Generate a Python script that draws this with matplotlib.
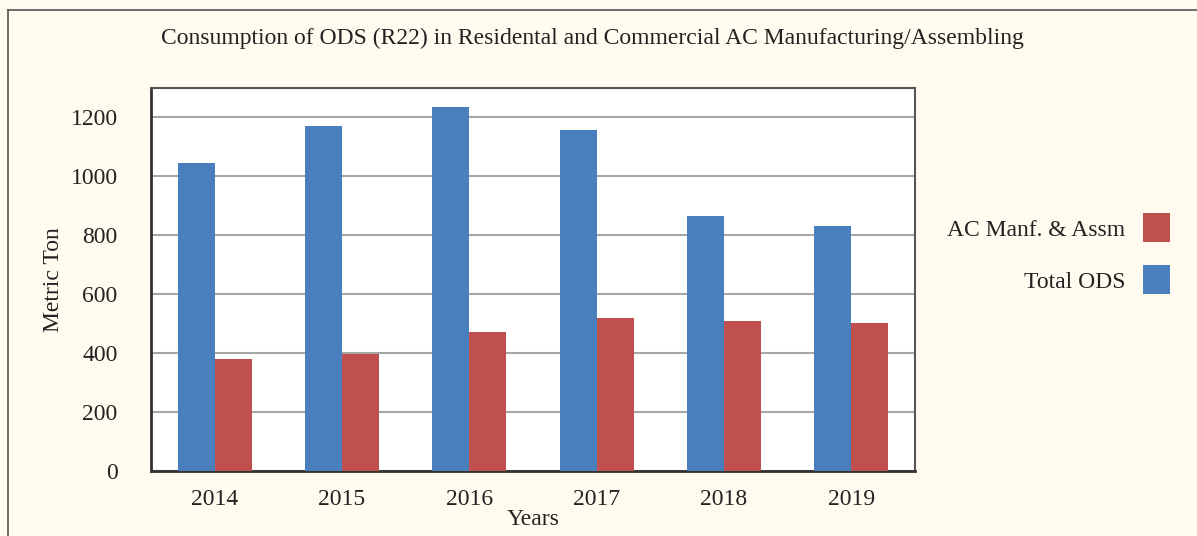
import matplotlib
matplotlib.use("Agg")
import matplotlib.pyplot as plt
import numpy as np
from matplotlib.lines import Line2D
from matplotlib.patches import Rectangle

years = ["2014", "2015", "2016", "2017", "2018", "2019"]
total_ods = [1047, 1170, 1234, 1156, 864, 833]
ac_manf = [381, 398, 473, 520, 510, 503]
legend_labels = ["AC Manf. & Assm", "Total ODS"]

BLUE = "#4a7fbd"
RED = "#c0504d"
BG = "#fffcef"
TXT = "#222222"

plt.rcParams['font.family'] = ['Liberation Serif', 'DejaVu Serif']

W, H = 1197, 536
fig = plt.figure(figsize=(W / 100, H / 100), dpi=100, facecolor=BG)
ax = fig.add_axes([151 / W, 1 - 471 / H, (915 - 151) / W, (471 - 88) / H])
ax.set_facecolor("white")

x = np.arange(len(years))
w = 0.29
ax.bar(x - w/2, total_ods, width=w, color=BLUE, zorder=3, label="Total ODS")
ax.bar(x + w/2, ac_manf, width=w, color=RED, zorder=3, label="AC Manf. & Assm")

ax.set_xlim(-0.5, len(years) - 0.5)
ax.set_ylim(0, 1300)
ax.set_yticks(range(0, 1201, 200))
ax.set_xticks(x)
ax.set_xticklabels(years)
ax.yaxis.grid(True, color="#a6a6a6", linewidth=1.5, zorder=0)
ax.tick_params(axis="both", length=0, labelsize=17, colors=TXT)
ax.tick_params(axis="y", pad=24)
ax.tick_params(axis="x", pad=13)

for side in ["left", "bottom"]:
    ax.spines[side].set_color("#333333")
    ax.spines[side].set_linewidth(2)
for side in ["top", "right"]:
    ax.spines[side].set_color("#555555")
    ax.spines[side].set_linewidth(1.5)

ax.set_ylabel("Metric Ton", fontsize=17, color=TXT, labelpad=5)
ax.set_xlabel("Years", fontsize=17, color=TXT, labelpad=-1)

fig.text(592 / W, 1 - 38 / H,
         "Consumption of ODS (R22) in Residental and Commercial AC Manufacturing/Assembling",
         ha="center", va="center", fontsize=17, color=TXT)

# legend (drawn manually to match placement)
legend_colors = [RED, BLUE]
legend_y = [227, 279]
for lab, col, yc in zip(legend_labels, legend_colors, legend_y):
    fig.text(1125 / W, 1 - (yc + 3) / H, lab, ha="right", va="center", fontsize=17, color=TXT)
    fig.add_artist(Rectangle((1143 / W, 1 - (yc + 14.5) / H), 27 / W, 29 / H,
                             transform=fig.transFigure, facecolor=col, edgecolor="none"))

# figure border (top and left)
fig.add_artist(Line2D([8 / W, 1.0], [1 - 10 / H, 1 - 10 / H], transform=fig.transFigure,
                      color="#555555", linewidth=1.2))
fig.add_artist(Line2D([8 / W, 8 / W], [0.0, 1 - 10 / H], transform=fig.transFigure,
                      color="#555555", linewidth=1.2))

fig.savefig("out.png", dpi=100, facecolor=BG)
